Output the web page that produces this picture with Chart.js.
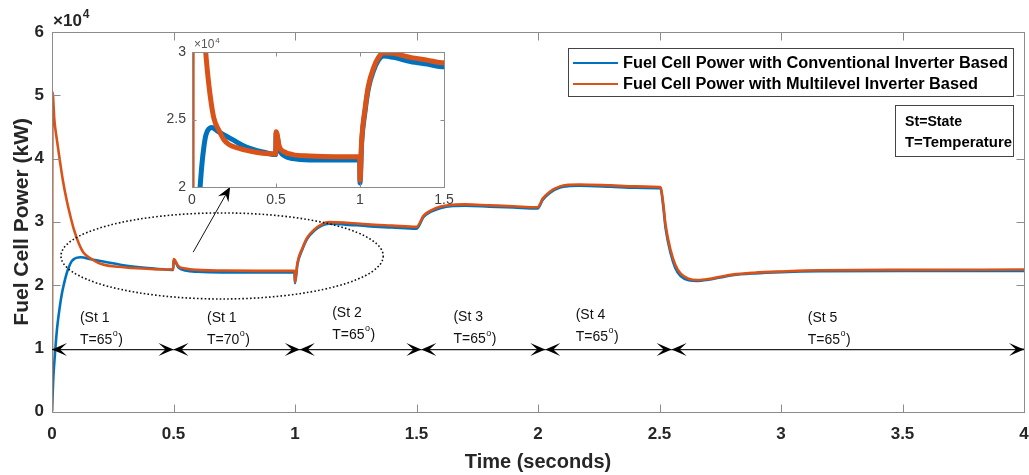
<!DOCTYPE html>
<html lang="en">
<head>
<meta charset="UTF-8">
<title>Fuel Cell Power</title>
<style>
  body { margin: 0; background: #fff; overflow: hidden; }
  #wrap { position: relative; width: 1029px; height: 475px; }
  #insetChart { position: absolute; left: 150px; top: 30px; }
</style>
<script src="https://cdn.jsdelivr.net/npm/chart.js@4"></script>
</head>
<body>
<div id="wrap">
  <canvas id="mainChart" width="1029" height="475"></canvas>
  <canvas id="insetChart" width="320" height="185"></canvas>
</div>
<script>
// conventional inverter: time (s) / power (W)
const convT = [0, 0.005, 0.012, 0.02, 0.03, 0.04, 0.05, 0.06, 0.07, 0.08,
  0.09, 0.1, 0.117, 0.13, 0.15, 0.2, 0.25, 0.3, 0.35, 0.42,
  0.498, 0.501, 0.52, 0.55, 0.6, 0.7, 0.85, 0.998, 1.0, 1.01,
  1.03, 1.05, 1.08, 1.11, 1.14, 1.2, 1.3, 1.4, 1.5, 1.53,
  1.56, 1.6, 1.65, 1.7, 1.8, 1.9, 1.998, 2.02, 2.05, 2.09,
  2.13, 2.17, 2.3, 2.4, 2.5, 2.505, 2.515, 2.525, 2.546, 2.565,
  2.587, 2.62, 2.656, 2.7, 2.75, 2.8, 2.89, 3.0, 3.16, 3.5, 4.0];
const convP = [0, 5000, 9000, 12800, 16000, 18500, 20300, 21800, 22900, 23700,
  24100, 24300, 24400, 24350, 24150, 23800, 23450, 23100, 22850, 22600,
  22400, 24000, 22800, 22300, 22100, 22000, 22000, 22000, 20300, 23300,
  25600, 27300, 28600, 29400, 29700, 29600, 29300, 29100, 28900, 30800,
  31600, 32200, 32500, 32550, 32400, 32250, 32100, 33500, 34600, 35400,
  35650, 35700, 35550, 35400, 35300, 35200, 32600, 29000, 25000, 22700,
  21400, 20750, 20650, 20850, 21200, 21550, 21850, 22050, 22200, 22250, 22250];

// multilevel inverter: time (s) / power (W)
const multiT = [0, 0.002, 0.01, 0.02, 0.033, 0.045, 0.06, 0.075, 0.09, 0.11,
  0.13, 0.16, 0.19, 0.22, 0.27, 0.35, 0.42, 0.498, 0.501, 0.52,
  0.55, 0.6, 0.7, 0.85, 0.998, 1.0, 1.01, 1.03, 1.05, 1.08,
  1.11, 1.14, 1.2, 1.3, 1.4, 1.5, 1.53, 1.56, 1.6, 1.65,
  1.7, 1.8, 1.9, 1.998, 2.02, 2.05, 2.09, 2.13, 2.17, 2.3,
  2.4, 2.5, 2.505, 2.515, 2.525, 2.546, 2.565, 2.587, 2.62, 2.656,
  2.7, 2.75, 2.8, 2.89, 3.0, 3.16, 3.5, 4.0];
const multiP = [0, 50500, 46000, 43000, 39500, 36500, 33500, 31000, 28800, 26600,
  25100, 24200, 23500, 23150, 22900, 22650, 22500, 22450, 24100, 23000,
  22600, 22400, 22300, 22250, 22250, 20500, 23500, 25800, 27500, 28800,
  29600, 29950, 29900, 29600, 29400, 29200, 31000, 31800, 32400, 32700,
  32750, 32600, 32450, 32300, 33700, 34800, 35600, 35850, 35900, 35750,
  35600, 35500, 35400, 33000, 29500, 25500, 23200, 21800, 21000, 20800,
  20950, 21300, 21650, 21950, 22150, 22350, 22400, 22450];

const seriesNames = ['Fuel Cell Power with Conventional Inverter Based',
                     'Fuel Cell Power with Multilevel Inverter Based'];
const noteLines = ['St=State', 'T=Temperature'];

// operating states along the time axis
const stateBounds = [0, 0.5, 1.02, 1.52, 2.03, 2.55, 4.0];
const stateNames = ['(St 1', '(St 1', '(St 2', '(St 3', '(St 4', '(St 5'];
const stateTemps = [65, 70, 65, 65, 65, 65];
// label anchors (seconds, W)
const stateLabelT = [0.115, 0.638, 1.153, 1.652, 2.155, 3.11];
const stateLabelP = [14800, 14800, 15600, 14900, 15300, 14800];

const BLUE = '#0072BD', ORANGE = '#D95319';
const FONT = "'Liberation Sans', Arial, sans-serif";
const FRAME = '#8c8c8c';

const toXY = (t, p) => t.map((v, i) => ({ x: v, y: p[i] }));

function fitText(ctx, str, x, y, w) {
  const m = ctx.measureText(str).width;
  ctx.save();
  ctx.translate(x, y);
  ctx.scale(w / m, 1);
  ctx.fillText(str, 0, 0);
  ctx.restore();
}

// box + inward ticks on all four sides
function drawFrame(ctx, chart, len) {
  const a = chart.chartArea, xs = chart.scales.x, ys = chart.scales.y;
  const L = Math.round(a.left) + 0.5, R = Math.round(a.right) + 0.5;
  const T = Math.round(a.top) + 0.5, B = Math.round(a.bottom) + 0.5;
  ctx.save();
  ctx.strokeStyle = FRAME;
  ctx.lineWidth = 1;
  ctx.strokeRect(L, T, R - L, B - T);
  ctx.beginPath();
  xs.ticks.forEach(tk => {
    const px = Math.round(xs.getPixelForValue(tk.value)) + 0.5;
    ctx.moveTo(px, B); ctx.lineTo(px, B - len);
    ctx.moveTo(px, T); ctx.lineTo(px, T + len);
  });
  ys.ticks.forEach(tk => {
    const py = Math.round(ys.getPixelForValue(tk.value)) + 0.5;
    ctx.moveTo(L, py); ctx.lineTo(L + len, py);
    ctx.moveTo(R, py); ctx.lineTo(R - len, py);
  });
  ctx.stroke();
  ctx.restore();
}

function drawExponent(ctx, x, y, size, bold, color) {
  ctx.save();
  ctx.fillStyle = color;
  ctx.textBaseline = 'alphabetic';
  ctx.textAlign = 'left';
  ctx.font = (bold ? 'bold ' : '') + size + 'px ' + FONT;
  ctx.fillText('\u00d710', x, y);
  const w = ctx.measureText('\u00d710').width;
  ctx.font = (bold ? 'bold ' : '') + Math.round(size * 0.7) + 'px ' + FONT;
  ctx.fillText('4', x + w + 1, y - size * 0.45);
  ctx.restore();
}

// arrow head with notched back, tip at (x, y) pointing along angle
function arrowHead(ctx, x, y, ang, len, half, notch) {
  ctx.save();
  ctx.translate(x, y);
  ctx.rotate(ang);
  ctx.beginPath();
  ctx.moveTo(0, 0);
  ctx.lineTo(-len, -half);
  ctx.lineTo(-notch, 0);
  ctx.lineTo(-len, half);
  ctx.closePath();
  ctx.fill();
  ctx.restore();
}

const mainDecor = {
  id: 'mainDecor',
  afterDraw(chart) {
    const { ctx, chartArea: a, scales: { x, y } } = chart;
    drawFrame(ctx, chart, 8);
    drawExponent(ctx, a.left + 1, a.top - 6, 17, true, '#262626');

    ctx.save();
    // dotted ellipse around states 1-2
    const cx = x.getPixelForValue(0.70), cy = y.getPixelForValue(24600);
    const rx = x.getPixelForValue(0.70 + 0.663) - cx;
    const ry = cy - y.getPixelForValue(24600 + 6800);
    ctx.strokeStyle = '#111';
    ctx.lineWidth = 1.6;
    ctx.setLineDash([1.6, 2.2]);
    ctx.beginPath();
    ctx.ellipse(cx, cy, rx, ry, 0, 0, Math.PI * 2);
    ctx.stroke();
    ctx.setLineDash([]);

    // pointer to the zoomed view
    const x0 = x.getPixelForValue(0.581), y0 = y.getPixelForValue(25200);
    const x1 = x.getPixelForValue(0.733), y1 = y.getPixelForValue(35500);
    const ang = Math.atan2(y1 - y0, x1 - x0);
    ctx.strokeStyle = '#111';
    ctx.lineWidth = 1;
    ctx.beginPath();
    ctx.moveTo(x0, y0);
    ctx.lineTo(x1 - 8 * Math.cos(ang), y1 - 8 * Math.sin(ang));
    ctx.stroke();
    ctx.fillStyle = '#000';
    arrowHead(ctx, x1, y1, ang, 14, 6, 9);

    // state span arrows
    const ay = y.getPixelForValue(9800);
    for (let i = 0; i < stateBounds.length - 1; i++) {
      const xa = x.getPixelForValue(stateBounds[i]);
      const xb = x.getPixelForValue(stateBounds[i + 1]);
      ctx.strokeStyle = '#222';
      ctx.lineWidth = 1.2;
      ctx.beginPath();
      ctx.moveTo(xa, ay); ctx.lineTo(xb, ay);
      ctx.stroke();
      arrowHead(ctx, xa, ay, Math.PI, 15, 6.5, 8);
      arrowHead(ctx, xb, ay, 0, 15, 6.5, 8);
    }

    // state labels
    ctx.fillStyle = '#111';
    ctx.textBaseline = 'middle';
    ctx.textAlign = 'left';
    stateNames.forEach((s, i) => {
      const lx = x.getPixelForValue(stateLabelT[i]);
      const ly = y.getPixelForValue(stateLabelP[i]);
      ctx.font = '14px ' + FONT;
      ctx.fillText(s, lx, ly);
      const t = 'T=' + stateTemps[i];
      ctx.fillText(t, lx, ly + 22);
      let w = ctx.measureText(t).width;
      ctx.font = '9px ' + FONT;
      ctx.fillText('o', lx + w + 0.5, ly + 16);
      w += ctx.measureText('o').width + 1;
      ctx.font = '14px ' + FONT;
      ctx.fillText(')', lx + w, ly + 22);
    });

    // legend
    const lx0 = Math.round(a.right) - 456, ly0 = Math.round(a.top) + 16;
    ctx.fillStyle = '#fff';
    ctx.fillRect(lx0, ly0, 445, 48);
    ctx.strokeStyle = '#444';
    ctx.lineWidth = 1;
    ctx.strokeRect(lx0 + 0.5, ly0 + 0.5, 445, 48);
    [BLUE, ORANGE].forEach((c, i) => {
      const ry2 = ly0 + 15 + i * 21;
      ctx.strokeStyle = c;
      ctx.lineWidth = 2;
      ctx.beginPath();
      ctx.moveTo(lx0 + 5, ry2); ctx.lineTo(lx0 + 50, ry2);
      ctx.stroke();
      ctx.fillStyle = '#000';
      ctx.font = 'bold 16px ' + FONT;
      fitText(ctx, seriesNames[i], lx0 + 55, ry2 + 1, i === 0 ? 385 : 355);
    });

    // abbreviations note
    const nx = Math.round(a.right) - 129, ny = Math.round(a.top) + 73;
    ctx.fillStyle = '#fff';
    ctx.fillRect(nx, ny, 118, 51);
    ctx.strokeStyle = '#444';
    ctx.lineWidth = 1;
    ctx.strokeRect(nx + 0.5, ny + 0.5, 118, 51);
    ctx.fillStyle = '#000';
    ctx.font = 'bold 14px ' + FONT;
    fitText(ctx, noteLines[0], nx + 10, ny + 17, 57);
    fitText(ctx, noteLines[1], nx + 10, ny + 38, 107);
    ctx.restore();
  }
};

const insetDecor = {
  id: 'insetDecor',
  beforeDatasetsDraw(chart) {
    const { ctx, chartArea: a } = chart;
    ctx.save();
    ctx.fillStyle = '#fff';
    ctx.fillRect(a.left, a.top, a.right - a.left, a.bottom - a.top);
    ctx.restore();
  },
  afterDraw(chart) {
    const { ctx, chartArea: a } = chart;
    drawFrame(ctx, chart, 4);
    drawExponent(ctx, a.left + 2, a.top - 4, 12, false, '#555');
  }
};

function lineSets(width) {
  return [
    { label: seriesNames[1], data: toXY(multiT, multiP), borderColor: ORANGE,
      borderWidth: width, pointRadius: 0, cubicInterpolationMode: 'monotone', order: 0 },
    { label: seriesNames[0], data: toXY(convT, convP), borderColor: BLUE,
      borderWidth: width, pointRadius: 0, cubicInterpolationMode: 'monotone', order: 1 }
  ];
}

const noGrid = { display: false, drawTicks: false };
// let the layout padding alone decide the plot edges
const fixX = h => s => { s.height = h; s.paddingLeft = 0; s.paddingRight = 0; };
const fixY = w => s => { s.width = w; s.paddingTop = 0; s.paddingBottom = 0; };

new Chart(document.getElementById('mainChart'), {
  type: 'line',
  data: { datasets: lineSets(2.6) },
  options: {
    responsive: false,
    animation: false,
    layout: { padding: { top: 32, right: 5, left: 0, bottom: 0 } },
    plugins: { legend: { display: false }, tooltip: { enabled: false } },
    scales: {
      x: {
        type: 'linear', min: 0, max: 4,
        grid: noGrid, border: { display: false },
        ticks: { stepSize: 0.5, padding: 13, maxRotation: 0, color: '#262626', callback: v => v,
                 font: { family: FONT, size: 17, weight: 'bold' } },
        title: { display: true, text: 'Time (seconds)', color: '#262626',
                 font: { family: FONT, size: 20, weight: 'bold' }, padding: { top: 0, bottom: 1 } },
        afterFit: fixX(63.4)
      },
      y: {
        min: 0, max: 60000,
        grid: noGrid, border: { display: false },
        ticks: { stepSize: 10000, padding: 8, color: '#262626', callback: v => v / 10000,
                 font: { family: FONT, size: 17, weight: 'bold' } },
        title: { display: true, text: 'Fuel Cell Power (kW)', color: '#262626',
                 font: { family: FONT, size: 21, weight: 'bold' }, padding: { top: 10, bottom: 0 } },
        afterFit: fixY(52)
      }
    }
  },
  plugins: [mainDecor]
});

new Chart(document.getElementById('insetChart'), {
  type: 'line',
  data: { datasets: lineSets(5) },
  options: {
    responsive: false,
    animation: false,
    layout: { padding: { top: 22, right: 26, left: 0, bottom: 0 } },
    plugins: { legend: { display: false }, tooltip: { enabled: false } },
    scales: {
      x: {
        type: 'linear', min: 0, max: 1.5,
        grid: noGrid, border: { display: false },
        ticks: { stepSize: 0.5, padding: 5, maxRotation: 0, color: '#404040', callback: v => v,
                 font: { family: FONT, size: 14 } },
        afterFit: fixX(28)
      },
      y: {
        min: 20000, max: 30000,
        grid: noGrid, border: { display: false },
        ticks: { stepSize: 5000, padding: 6, color: '#404040', callback: v => v / 10000,
                 font: { family: FONT, size: 14 } },
        afterFit: fixY(42)
      }
    }
  },
  plugins: [insetDecor]
});
</script>
</body>
</html>
